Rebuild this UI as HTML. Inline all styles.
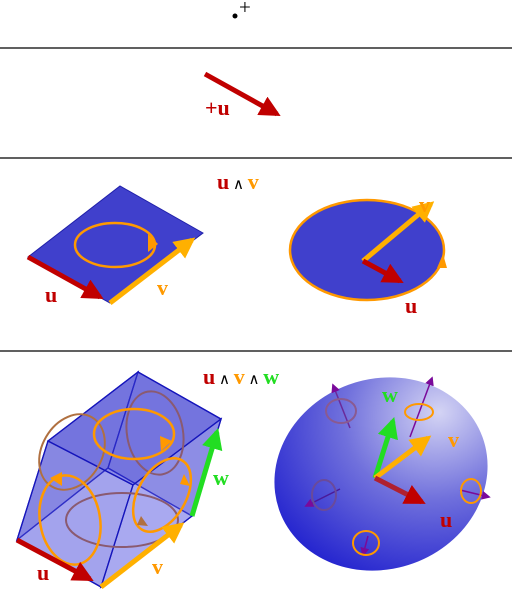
<!DOCTYPE html>
<html><head><meta charset="utf-8"><style>
html,body{margin:0;padding:0;background:#fff}
svg{display:block}
text{font-family:"Liberation Serif",serif;font-weight:bold}
</style></head><body>
<svg width="512" height="589" viewBox="0 0 512 589">
<defs>
<marker id="hr" viewBox="0 0 10 10" refX="8" refY="5" markerWidth="4.2" markerHeight="4.2" orient="auto"><path d="M0,0L10,5L0,10z" fill="#c00000"/></marker>
<marker id="ho" viewBox="0 0 10 10" refX="8" refY="5" markerWidth="4.2" markerHeight="4.2" orient="auto"><path d="M0,0L10,5L0,10z" fill="#ffb000"/></marker>
<marker id="hg" viewBox="0 0 10 10" refX="8" refY="5" markerWidth="4.2" markerHeight="4.2" orient="auto"><path d="M0,0L10,5L0,10z" fill="#22dd22"/></marker>
<marker id="hs" viewBox="0 0 10 10" refX="8" refY="5" markerWidth="5" markerHeight="5" orient="auto"><path d="M0,0L10,5L0,10z" fill="#ff9900"/></marker>
<marker id="hp" viewBox="0 0 10 10" refX="8" refY="5" markerWidth="6" markerHeight="6" orient="auto"><path d="M0,0L10,5L0,10z" fill="#7a0a9a"/></marker>
<radialGradient id="sg" cx="0.85" cy="0.3" r="1" fx="0.85" fy="0.3">
<stop offset="0" stop-color="#d4d4f4"/><stop offset="0.45" stop-color="#7070dc"/><stop offset="1" stop-color="#1515cc"/></radialGradient>
</defs>

<circle cx="235" cy="16" r="2.5" fill="#000"/>
<text x="239" y="14" font-size="21" style="font-weight:normal">+</text>
<line x1="0" y1="48" x2="512" y2="48" stroke="#000" stroke-width="1.2"/>

<line x1="205" y1="74" x2="277" y2="114" stroke="#c00000" stroke-width="5" marker-end="url(#hr)"/>
<text x="205" y="115" font-size="22" fill="#c00000">+u</text>
<line x1="0" y1="158" x2="512" y2="158" stroke="#000" stroke-width="1.2"/>

<text x="217" y="189" font-size="22"><tspan fill="#c00000">u</tspan><tspan fill="#000" font-size="15" style="font-weight:normal"> ∧ </tspan><tspan fill="#ff9900">v</tspan></text>
<polygon points="28,257 120,186 203,233 110,303" fill="#4040cc" stroke="#2020aa"/>
<ellipse cx="115" cy="245" rx="40" ry="22" fill="none" stroke="#ff9900" stroke-width="2.5"/>
<path d="M148,234 L158,244 L148,252z" fill="#ff9900"/>
<line x1="28" y1="257" x2="100" y2="297" stroke="#c00000" stroke-width="5" marker-end="url(#hr)"/>
<line x1="110" y1="303" x2="192" y2="240" stroke="#ffb000" stroke-width="5" marker-end="url(#ho)"/>
<text x="45" y="302" font-size="22" fill="#c00000">u</text>
<text x="157" y="295" font-size="22" fill="#ff9900">v</text>
<ellipse cx="367" cy="250" rx="77" ry="50" fill="#4040cc" stroke="#ff9900" stroke-width="2.5"/>
<path d="M437,268 L443,254 L447,268z" fill="#ff9900"/>
<line x1="363" y1="261" x2="431" y2="204" stroke="#ffb000" stroke-width="5" marker-end="url(#ho)"/>
<line x1="363" y1="261" x2="400" y2="281" stroke="#c00000" stroke-width="5" marker-end="url(#hr)"/>
<text x="419" y="212" font-size="22" fill="#ff9900">v</text>
<text x="405" y="313" font-size="22" fill="#c00000">u</text>
<line x1="0" y1="351" x2="512" y2="351" stroke="#000" stroke-width="1.2"/>

<text x="203" y="384" font-size="22"><tspan fill="#c00000">u</tspan><tspan fill="#000" font-size="15" style="font-weight:normal"> ∧ </tspan><tspan fill="#ff9900">v</tspan><tspan fill="#000" font-size="15" style="font-weight:normal"> ∧ </tspan><tspan fill="#22dd22">w</tspan></text>
<g stroke="#1515bb" stroke-width="1.3">
<polygon points="17,540 108,468 138,372 48,441" fill="rgba(40,40,200,0.5)"/>
<polygon points="108,468 192,516 221,419 138,372" fill="rgba(40,40,200,0.5)"/>
<polygon points="17,540 101,587 192,516 108,468" fill="rgba(120,120,230,0.5)"/>
<polygon points="48,441 133,485 221,419 138,372" fill="rgba(70,70,215,0.4)"/>
<polygon points="17,540 101,587 133,485 48,441" fill="rgba(110,110,225,0.3)"/>
<polygon points="101,587 192,516 221,419 133,485" fill="rgba(130,130,235,0.3)"/>
</g>
<g fill="none" stroke-width="2">
<ellipse cx="155" cy="433" rx="28" ry="42" stroke="#8a5a70" transform="rotate(-10 155 433)"/>
<ellipse cx="122" cy="520" rx="56" ry="27" stroke="#8a5a70"/>
<ellipse cx="72" cy="452" rx="30" ry="40" stroke="#b07040" transform="rotate(30 72 452)"/>
<ellipse cx="134" cy="434" rx="40" ry="25" stroke="#ff9900" stroke-width="2.5"/>
<ellipse cx="70" cy="520" rx="30" ry="45" stroke="#ff9900" stroke-width="2.5" transform="rotate(-10 70 520)"/>
<ellipse cx="162" cy="495" rx="24" ry="40" stroke="#ff9900" stroke-width="2.5" transform="rotate(30 162 495)"/>
<path d="M160,436 L172,441 L161,451z" fill="#ff9900" stroke="none"/>
<path d="M62,472 L50,478 L62,486z" fill="#ff9900" stroke="none"/>
<path d="M184,474 L190,486 L180,484z" fill="#ff9900" stroke="none"/>
<path d="M141,516 L148,526 L137,525z" fill="#b07040" stroke="none"/>
</g>
<line x1="17" y1="540" x2="90" y2="579" stroke="#c00000" stroke-width="5" marker-end="url(#hr)"/>
<line x1="101" y1="587" x2="181" y2="525" stroke="#ffb000" stroke-width="5" marker-end="url(#ho)"/>
<line x1="192" y1="516" x2="217" y2="432" stroke="#22dd22" stroke-width="5" marker-end="url(#hg)"/>
<text x="37" y="580" font-size="22" fill="#c00000">u</text>
<text x="152" y="574" font-size="22" fill="#ff9900">v</text>
<text x="213" y="485" font-size="22" fill="#22dd22">w</text>

<ellipse cx="381" cy="474" rx="108" ry="95" fill="url(#sg)" transform="rotate(-20 381 474)"/>
<g stroke-width="1.5" fill="none">
<line x1="350" y1="428" x2="333" y2="385" stroke="#6a2a9a" marker-end="url(#hp)"/>
<ellipse cx="341" cy="411" rx="15" ry="12" stroke="#8a5a90" stroke-width="2"/>
<line x1="340" y1="489" x2="306" y2="506" stroke="#4a1a9a" marker-end="url(#hp)"/>
<ellipse cx="324" cy="495" rx="12" ry="15" stroke="#6a4a9a" stroke-width="2"/>
<line x1="410" y1="437" x2="432" y2="378" stroke="#7a0a9a" marker-end="url(#hp)"/>
<ellipse cx="419" cy="412" rx="14" ry="8" stroke="#ff9900" stroke-width="2"/>
<line x1="460" y1="490" x2="489" y2="497" stroke="#7a0a9a" marker-end="url(#hp)"/>
<ellipse cx="471" cy="491" rx="10" ry="12" stroke="#ff9900" stroke-width="2"/>
<line x1="368" y1="536" x2="363" y2="555" stroke="#7a0a9a" marker-end="url(#hp)"/>
<ellipse cx="366" cy="543" rx="13" ry="12" stroke="#ff9900" stroke-width="2"/>
</g>
<line x1="375" y1="478" x2="393" y2="421" stroke="#22dd22" stroke-width="5" marker-end="url(#hg)"/>
<line x1="375" y1="478" x2="428" y2="438" stroke="#ffb000" stroke-width="5" marker-end="url(#ho)"/>
<line x1="375" y1="478" x2="422" y2="502" stroke="#b02030" stroke-width="5" marker-end="url(#hr)"/>
<text x="382" y="402" font-size="22" fill="#22dd22">w</text>
<text x="448" y="447" font-size="22" fill="#ff9900">v</text>
<text x="440" y="527" font-size="22" fill="#c00000">u</text>
</svg>
</body></html>
